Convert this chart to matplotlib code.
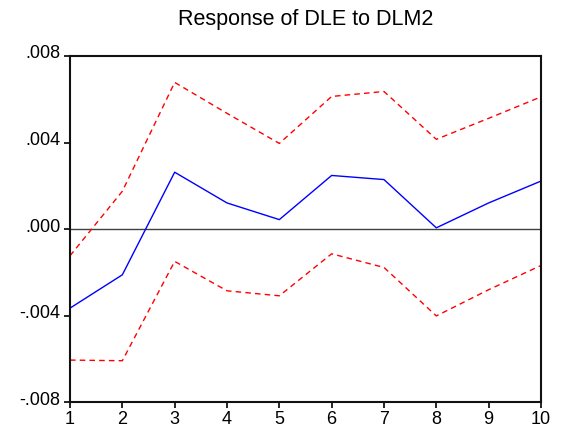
import matplotlib
matplotlib.use("Agg")
import matplotlib.pyplot as plt
import matplotlib.transforms as mtransforms
from matplotlib.ticker import FuncFormatter

periods = [1, 2, 3, 4, 5, 6, 7, 8, 9, 10]
response = [-0.00365, -0.00211, 0.00263, 0.00121, 0.00044, 0.00248, 0.00229, 0.00006, 0.00121, 0.00222]
upper = [-0.00123, 0.00175, 0.00678, 0.00535, 0.00396, 0.00613, 0.00636, 0.00415, 0.00512, 0.00611]
lower = [-0.00605, -0.00608, -0.00149, -0.00285, -0.00308, -0.00114, -0.00177, -0.00401, -0.00280, -0.00168]
yticks = [-0.008, -0.004, 0.0, 0.004, 0.008]

plt.rcParams['font.family'] = ['Liberation Sans', 'DejaVu Sans']

fig = plt.figure(figsize=(5.61, 4.32), dpi=100)
ax = fig.add_axes([0.1248, 0.0688, 0.9643 - 0.1248, 0.8704 - 0.0688])

ax.axhline(0, color='#404040', linewidth=1.0)
ax.plot(periods, response, color='blue', linewidth=1.0)
ax.plot(periods, upper, color='red', linewidth=1.0, linestyle=(0, (4, 3)))
ax.plot(periods, lower, color='red', linewidth=1.0, linestyle=(0, (4, 3)))

ax.set_xlim(1, 10)
ax.set_ylim(-0.008, 0.008)
ax.set_xticks(periods)
ax.set_yticks(yticks)


def fmt(v, pos):
    s = "%.3f" % v
    if s.startswith("-0"):
        return "-" + s[2:]
    if s.startswith("0"):
        return s[1:]
    return s


ax.yaxis.set_major_formatter(FuncFormatter(fmt))
ax.tick_params(direction='out', length=4, width=1.2, labelsize=13, colors='black')
ax.tick_params(axis='x', pad=2)
ax.tick_params(axis='y', pad=3)
for sp in ax.spines.values():
    sp.set_linewidth(1.5)
    sp.set_color('#111111')

# y labels sit a bit above their ticks in the original
shift = mtransforms.ScaledTranslation(0, 4 / 100, fig.dpi_scale_trans)
for lbl in ax.get_yticklabels():
    lbl.set_transform(lbl.get_transform() + shift)

fig.text(0.545, 0.954, "Response of DLE to DLM2", fontsize=15.5, ha='center', va='center')

fig.savefig("out.png", dpi=100)
